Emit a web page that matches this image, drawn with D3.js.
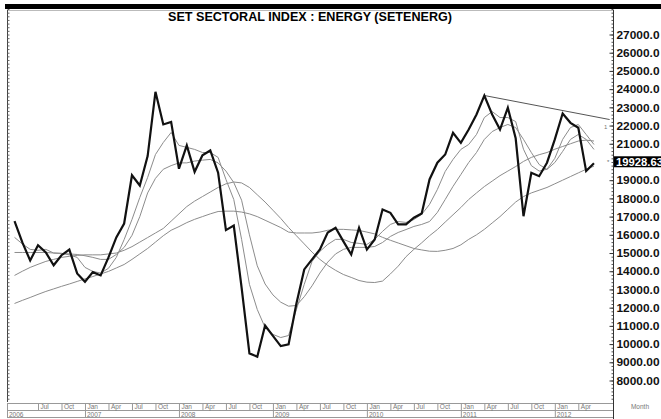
<!DOCTYPE html>
<html>
<head>
<meta charset="utf-8">
<script src="https://cdn.jsdelivr.net/npm/d3@7"></script>
<style>
body { margin: 0; background: #fff; }
svg { display: block; font-family: "Liberation Sans", Arial, sans-serif; }
</style>
</head>
<body>
<svg id="chart" width="661" height="419"></svg>
<script>
var title = "SET SECTORAL INDEX : ENERGY (SETENERG)";

var months = [
    "2006-04", "2006-05", "2006-06", "2006-07", "2006-08", "2006-09", "2006-10", "2006-11", "2006-12",
    "2007-01", "2007-02", "2007-03", "2007-04", "2007-05", "2007-06", "2007-07", "2007-08", "2007-09", "2007-10", "2007-11", "2007-12",
    "2008-01", "2008-02", "2008-03", "2008-04", "2008-05", "2008-06", "2008-07", "2008-08", "2008-09", "2008-10", "2008-11", "2008-12",
    "2009-01", "2009-02", "2009-03", "2009-04", "2009-05", "2009-06", "2009-07", "2009-08", "2009-09", "2009-10", "2009-11", "2009-12",
    "2010-01", "2010-02", "2010-03", "2010-04", "2010-05", "2010-06", "2010-07", "2010-08", "2010-09", "2010-10", "2010-11", "2010-12",
    "2011-01", "2011-02", "2011-03", "2011-04", "2011-05", "2011-06", "2011-07", "2011-08", "2011-09", "2011-10", "2011-11", "2011-12",
    "2012-01", "2012-02", "2012-03", "2012-04", "2012-05", "2012-06"
];

// monthly close
var closeValues = [
    16750, 15580, 14590, 15430, 15030, 14330, 14880, 15190, 13880,
    13420, 13950, 13770, 14760, 15860, 16620, 19270, 18710, 20320, 23850, 22060, 22200,
    19630, 20910, 19460, 20370, 20630, 19410, 16260, 16510, 13100, 9490, 9310, 11020,
    10450, 9890, 9980, 12230, 14100, 14650, 15200, 16130, 16390, 15640, 14920, 16390,
    15190, 15740, 17390, 17210, 16570, 16570, 16940, 17170, 19040, 19960, 20410, 21600,
    21050, 21780, 22610, 23650, 22610, 21780, 22980, 21300, 17020, 19410, 19220, 19960,
    21240, 22660, 22150, 21880, 19500, 19928.63
];

// moving averages, fastest to slowest
var ma1 = [
    15860, 15500, 15200, 15150, 15200, 15000, 14980, 14900, 14760,
    14210, 13990, 13900, 14160, 14760, 15740, 16840, 18050, 19150, 20410, 21070, 21620,
    20910, 20800, 20690, 20520, 20520, 20250, 19040, 17940, 15750, 13280, 11900, 10910,
    10530, 10360, 10470, 11900, 13280, 14540, 15090, 15470, 15750, 15750, 15580, 15530,
    15470, 15750, 16190, 16570, 16730, 16680, 16840, 17120, 17670, 18490, 19480, 20140,
    20690, 20960, 21510, 22440, 22770, 22440, 22440, 22220, 20700, 19800, 19500, 19600,
    20200, 21240, 21890, 22060, 21510, 20960
];
var ma2 = [
    15030, 15030, 15030, 15030, 15030, 15000, 14980, 14950, 14920,
    14850, 14760, 14650, 14650, 14920, 15310, 15970, 17000, 18300, 19100, 19600, 19800,
    19950, 19950, 20050, 20100, 20140, 19950, 19500, 18870, 17900, 16000, 14300, 13300,
    12700, 12300, 12080, 12120, 12600, 13200, 13900, 14500, 14950, 15200, 15310, 15310,
    15310, 15360, 15580, 15910, 16130, 16290, 16460, 16570, 16730, 17230, 17940, 18660,
    19310, 19970, 20520, 21240, 21670, 21890, 22060, 21890, 21240, 20520, 19860, 19590,
    19970, 20580, 21240, 21510, 21240, 20690
];
var ma3 = [
    13770, 14000, 14210, 14380, 14540, 14650, 14760, 14820, 14870,
    14900, 14900, 14900, 14950, 15000, 15150, 15350, 15600, 15850, 16100, 16350, 16750,
    17150, 17550, 17850, 18100, 18350, 18600, 18800, 18900, 18850, 18600, 18200, 17800,
    17350, 16900, 16400, 15950, 15500, 15050, 14650, 14320, 14050, 13820, 13660, 13490,
    13400, 13380, 13460, 13850, 14280, 14800, 15200, 15560, 15950, 16290, 16700, 17100,
    17500, 17940, 18300, 18650, 18950, 19250, 19500, 19750, 20030, 20250, 20400, 20520,
    20700, 20850, 21000, 21150, 21200, 21150
];
var ma4 = [
    12230, 12400, 12560, 12730, 12890, 13030, 13170, 13300, 13440,
    13580, 13710, 13850, 13990, 14180, 14370, 14650, 14950, 15250, 15600, 15950, 16250,
    16450, 16670, 16850, 17000, 17150, 17280, 17300, 17300, 17250, 17150, 17000, 16800,
    16600, 16400, 16150, 16100, 16100, 16100, 16150, 16250, 16300, 16300, 16270, 16240,
    16150, 16050, 15860, 15700, 15550, 15400, 15250, 15170, 15100, 15090, 15150, 15250,
    15450, 15750, 16000, 16300, 16650, 17000, 17400, 17800, 18100, 18300, 18450, 18600,
    18800, 19000, 19200, 19400, 19600, 19770
];

var trendMonths = ["2011-04", "2012-08"];
var trendValues = [23650, 22330];

var yTicks = [8000, 9000, 10000, 11000, 12000, 13000, 14000, 15000, 16000, 17000, 18000, 19000,
    21000, 22000, 23000, 24000, 25000, 26000, 27000];
var yTickLabels = ["8000.00", "9000.00", "10000.0", "11000.0", "12000.0", "13000.0", "14000.0", "15000.0",
    "16000.0", "17000.0", "18000.0", "19000.0", "21000.0", "22000.0", "23000.0", "24000.0", "25000.0",
    "26000.0", "27000.0"];
var lastLabel = "19928.63";

var quarterMonths = ["2006-07", "2006-10", "2007-01", "2007-04", "2007-07", "2007-10", "2008-01", "2008-04",
    "2008-07", "2008-10", "2009-01", "2009-04", "2009-07", "2009-10", "2010-01", "2010-04", "2010-07",
    "2010-10", "2011-01", "2011-04", "2011-07", "2011-10", "2012-01", "2012-04"];
var quarterLabels = ["Jul", "Oct", "Jan", "Apr", "Jul", "Oct", "Jan", "Apr", "Jul", "Oct", "Jan", "Apr", "Jul",
    "Oct", "Jan", "Apr", "Jul", "Oct", "Jan", "Apr", "Jul", "Oct", "Jan", "Apr"];
var years = ["2006", "2007", "2008", "2009", "2010", "2011", "2012"];

var svg = d3.select("#chart");
var plotLeft = 7, plotRight = 613, plotTop = 10, plotBottom = 402;

// months counted from Jan 2007
function monthIndex(s) {
    var p = s.split("-");
    return (+p[0] - 2007) * 12 + (+p[1] - 1);
}

var x = d3.scaleLinear().domain([-9.96, 67.43]).range([plotLeft, plotRight]);
var y = d3.scaleLinear().domain([8000, 27000]).range([380.5, 34.5]);

// top band
svg.append("rect").attr("x", 5).attr("y", 4).attr("width", 656).attr("height", 5).attr("fill", "#000");
svg.append("line").attr("x1", plotLeft).attr("x2", plotRight).attr("y1", plotTop + 0.5).attr("y2", plotTop + 0.5)
    .attr("stroke", "#bbb");

svg.append("text")
    .attr("x", 310).attr("y", 21)
    .attr("text-anchor", "middle")
    .attr("font-size", 12).attr("font-weight", "bold")
    .attr("textLength", 284).attr("lengthAdjust", "spacingAndGlyphs")
    .text(title);

svg.append("clipPath").attr("id", "plot-clip")
    .append("rect").attr("x", plotLeft).attr("y", plotTop)
    .attr("width", plotRight - plotLeft).attr("height", plotBottom - plotTop);

var plot = svg.append("g").attr("clip-path", "url(#plot-clip)");

var line = d3.line()
    .x(function(d) { return x(monthIndex(d.m)); })
    .y(function(d) { return y(d.v); });

function points(values) {
    return months.map(function(m, i) { return {m: m, v: values[i]}; });
}

[ma4, ma3, ma2, ma1].forEach(function(s) {
    plot.append("path")
        .datum(points(s))
        .attr("fill", "none")
        .attr("stroke", "#8c8c8c")
        .attr("stroke-width", 1)
        .attr("d", line);
});

plot.append("path")
    .datum(trendMonths.map(function(m, i) { return {m: m, v: trendValues[i]}; }))
    .attr("fill", "none")
    .attr("stroke", "#555")
    .attr("stroke-width", 1)
    .attr("d", line);

plot.append("path")
    .datum(points(closeValues))
    .attr("fill", "none")
    .attr("stroke", "#111")
    .attr("stroke-width", 2.2)
    .attr("stroke-linejoin", "miter")
    .attr("d", line);

// left border with small ticks
svg.append("line").attr("x1", plotLeft + 0.5).attr("x2", plotLeft + 0.5).attr("y1", plotTop).attr("y2", plotBottom)
    .attr("stroke", "#444");
var leftTicks = svg.append("g").attr("transform", "translate(" + (plotLeft + 0.5) + ",0)")
    .call(d3.axisRight(y).tickValues(d3.range(7000, 28401, 200)).tickSize(2).tickFormat(""));
leftTicks.select(".domain").remove();
leftTicks.selectAll("line").attr("stroke", "#666");

// right value axis
var minor = svg.append("g").attr("transform", "translate(" + (plotRight + 0.5) + ",0)")
    .call(d3.axisRight(y).tickValues(d3.range(7000, 28401, 200)).tickSizeInner(-2).tickSizeOuter(0).tickFormat(""));
minor.select(".domain").remove();
minor.selectAll("line").attr("stroke", "#555");

var yAxis = svg.append("g").attr("transform", "translate(" + (plotRight + 0.5) + ",0)")
    .call(d3.axisRight(y).tickValues(yTicks)
        .tickFormat(function(d, i) { return yTickLabels[i]; })
        .tickSizeInner(-4).tickSizeOuter(0).tickPadding(3));
yAxis.select(".domain").remove();
yAxis.selectAll("line").attr("stroke", "#333");
yAxis.selectAll("text")
    .attr("font-size", 11.5).attr("font-weight", "bold").attr("fill", "#111")
    .attr("font-family", "'Liberation Sans', Arial, sans-serif")
    .attr("textLength", 43).attr("lengthAdjust", "spacingAndGlyphs");

svg.append("line").attr("x1", plotRight + 0.5).attr("x2", plotRight + 0.5).attr("y1", plotTop).attr("y2", 419)
    .attr("stroke", "#333");

// last value box
var lastY = y(closeValues[closeValues.length - 1]);
svg.append("rect").attr("x", plotRight + 1).attr("y", lastY - 7).attr("width", 60).attr("height", 11)
    .attr("fill", "#000");
svg.append("text").attr("x", plotRight + 3).attr("y", lastY + 2.5)
    .attr("font-size", 11.5).attr("font-weight", "bold").attr("fill", "#fff")
    .attr("textLength", 47).attr("lengthAdjust", "spacingAndGlyphs")
    .text(lastLabel);
svg.append("text").attr("x", plotRight - 6).attr("y", lastY + 1)
    .attr("font-size", 6).attr("fill", "#666").text("*");
svg.append("text").attr("x", plotRight - 9).attr("y", y(trendValues[1]) + 9)
    .attr("font-size", 6).attr("fill", "#777").text("1");

// month / year band
var band = svg.append("g").attr("fill", "#777").attr("font-size", 6.5);
[403.5, 410.5, 417.5].forEach(function(yy) {
    band.append("line").attr("x1", plotLeft).attr("x2", plotRight).attr("y1", yy).attr("y2", yy)
        .attr("stroke", "#999");
});
band.append("line").attr("x1", plotLeft + 0.5).attr("x2", plotLeft + 0.5).attr("y1", 403).attr("y2", 418)
    .attr("stroke", "#999");

var xAxis = band.append("g").attr("transform", "translate(0,403.5)")
    .call(d3.axisBottom(x).tickValues(quarterMonths.map(monthIndex))
        .tickFormat(function(d, i) { return quarterLabels[i]; })
        .tickSizeInner(7).tickSizeOuter(0));
xAxis.select(".domain").remove();
xAxis.selectAll("line").attr("stroke", "#999")
    .attr("y2", function(d, i) { return quarterLabels[i] === "Jan" ? 14 : 7; });
xAxis.selectAll("text")
    .attr("text-anchor", "start").attr("x", 2).attr("y", 1).attr("dy", "0.71em")
    .attr("font-size", 6.5).attr("fill", "#777");

years.forEach(function(yr) {
    band.append("text")
        .attr("x", Math.max(x(monthIndex(yr + "-01")), plotLeft) + 2)
        .attr("y", 416.5)
        .attr("font-size", 6.5)
        .text(yr);
});

svg.append("text").attr("x", 640).attr("y", 409).attr("text-anchor", "middle")
    .attr("font-size", 6.5).attr("fill", "#777").text("Month");
</script>
</body>
</html>
